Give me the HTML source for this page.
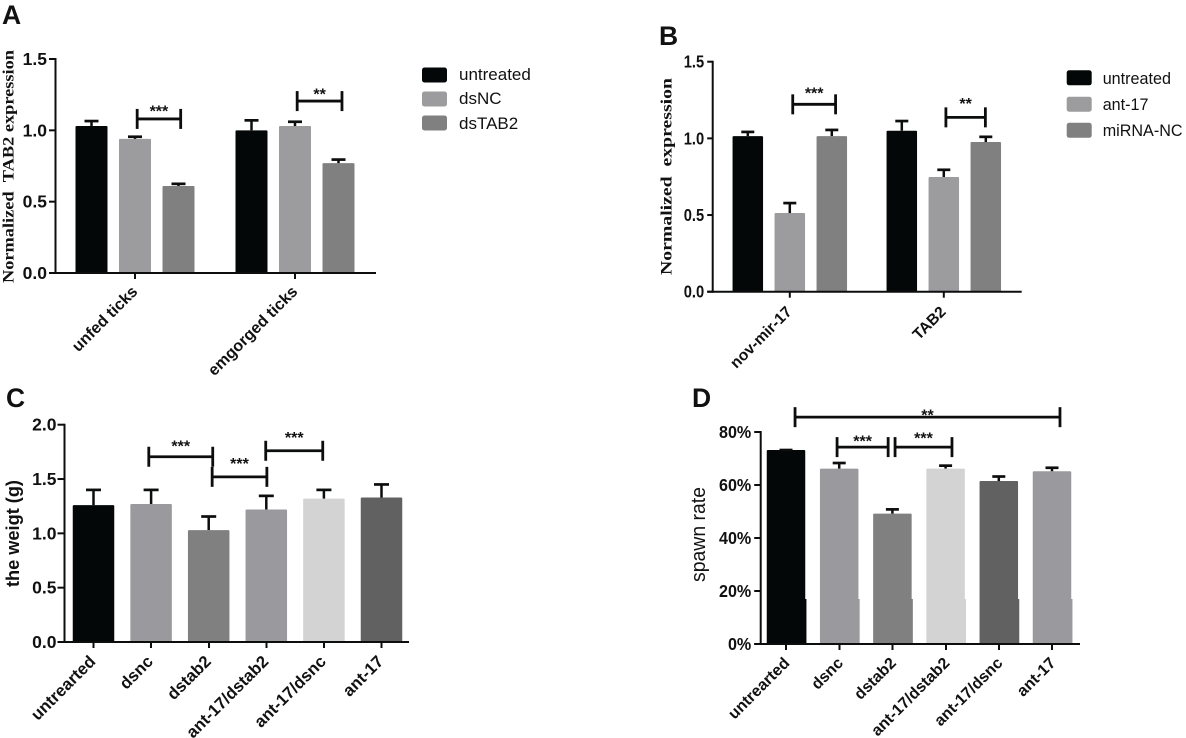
<!DOCTYPE html>
<html lang="en">
<head>
<meta charset="utf-8">
<title>Four-panel bar chart figure</title>
<style>
  html, body { margin: 0; padding: 0; background: #fff; width: 1186px; height: 738px; overflow: hidden; }
  svg { display: block; filter: blur(0.35px); }
  text { font-family: "Liberation Sans", Arial, sans-serif; fill: #111; }
  .serif { font-family: "Liberation Serif", "Times New Roman", serif; }
</style>
</head>
<body>
<svg id="figure" xmlns="http://www.w3.org/2000/svg" width="1186" height="738" viewBox="0 0 1186 738"></svg>
<script>
// ---- Panel A data ----
const aCategories = ['unfed ticks', 'emgorged ticks'];
const aSeriesNames = ['untreated', 'dsNC', 'dsTAB2'];
const aMeans = [[1.03, 0.94, 0.61], [1.00, 1.03, 0.77]];
const aErrTops = [[1.065, 0.955, 0.625], [1.07, 1.06, 0.795]];
const aTicks = [0, 0.5, 1.0, 1.5];
const aTickLabels = ['0.0', '0.5', '1.0', '1.5'];
const aBracketFrom = [1.05, 4.05];
const aBracketTo = [2.05, 5.08];
const aBracketLevel = [1.08, 1.205];
const aStarLevel = [1.163, 1.282];
const aStars = ['***', '**'];

// ---- Panel B data ----
const bCategories = ['nov-mir-17', 'TAB2'];
const bSeriesNames = ['untreated', 'ant-17', 'miRNA-NC'];
const bMeans = [[1.015, 0.513, 1.015], [1.05, 0.748, 0.976]];
const bErrTops = [[1.042, 0.578, 1.055], [1.113, 0.795, 1.01]];
const bTicks = [0, 0.5, 1.0, 1.5];
const bTickLabels = ['0.0', '0.5', '1.0', '1.5'];
const bBracketFrom = [1.07, 4.05];
const bBracketTo = [2.09, 4.99];
const bBracketLevel = [1.222, 1.137];
const bStarLevel = [1.322, 1.255];
const bStars = ['***', '**'];

// ---- Panel C data ----
const cCategories = ['untrearted', 'dsnc', 'dstab2', 'ant-17/dstab2', 'ant-17/dsnc', 'ant-17'];
const cMeans = [1.26, 1.27, 1.03, 1.22, 1.32, 1.33];
const cErrTops = [1.40, 1.40, 1.155, 1.345, 1.40, 1.45];
const cTicks = [0, 0.5, 1.0, 1.5, 2.0];
const cTickLabels = ['0.0', '0.5', '1.0', '1.5', '2.0'];
const cBracketFrom = [0.96, 2.06, 2.99];
const cBracketTo = [2.07, 3.01, 3.98];
const cBracketLevel = [1.705, 1.52, 1.76];
const cStarLevel = [1.84, 1.68, 1.92];
const cStars = ['***', '***', '***'];

// ---- Panel D data ----
const dCategories = ['untrearted', 'dsnc', 'dstab2', 'ant-17/dstab2', 'ant-17/dsnc', 'ant-17'];
const dMeans = [73.2, 66.2, 49.2, 66.2, 61.5, 65.2];
const dErrTops = [73.2, 68.3, 50.8, 67.3, 63.2, 66.5];
const dTicks = [0, 20, 40, 60, 80];
const dTickLabels = ['0%', '20%', '40%', '60%', '80%'];
const dBracketFrom = [0.17, 0.96, 2.05];
const dBracketTo = [5.15, 1.92, 3.12];
const dBracketLevel = [85.6, 74.3, 74.3];
const dStarLevel = [87.9, 78.1, 79.2];
const dStars = ['**', '***', '***'];

const INK = '#0c0d0d';
const svg = document.getElementById('figure');
const NS = 'http://www.w3.org/2000/svg';

function make(tag, attrs, parent, name) {
  const node = document.createElementNS(NS, tag);
  for (const k in attrs) node.setAttribute(k, attrs[k]);
  
  
  parent.appendChild(node);
  return node;
}
function label(str, x, y, size, weight, parent, name, opts) {
  opts = opts || {};
  const sx = opts.squeeze || 1;
  const rot = opts.rotate || 0;
  const attrs = {
    transform: 'translate(' + x + ' ' + y + ') rotate(' + rot + ') scale(' + sx + ' 1)',
    'font-size': size, 'font-weight': weight, 'text-anchor': opts.anchor || 'start'
  };
  if (opts.cls) attrs['class'] = opts.cls;
  if (opts.length) { attrs.textLength = opts.length; attrs.lengthAdjust = 'spacingAndGlyphs'; }
  const t = make('text', attrs, parent, name);
  t.textContent = str;
  return t;
}

function drawPanel(cfg) {
  const g = make('g', {}, svg, 'panel-' + cfg.id);
  const yScale = function (v) { return cfg.y0 - (v - cfg.domainMin) / (cfg.domainMax - cfg.domainMin) * (cfg.y0 - cfg.yTop); };

  // panel letter
  label(cfg.id.toUpperCase(), cfg.letterX, cfg.letterY, 26.5, 'bold', g, 'panel-letter-' + cfg.id);

  // bars and error bars
  cfg.bars.forEach(function (b, i) {
    const top = yScale(b.value);
    make('rect', { x: b.cx - cfg.barW / 2, y: top, width: cfg.barW, height: cfg.y0 - top, rx: 1, fill: cfg.colorOf(i) }, g, 'bar-' + cfg.id + '-' + i);
    if (cfg.splitY) {
      make('rect', { x: b.cx - cfg.barW / 2 + 0.6, y: cfg.splitY, width: cfg.barW + 0.6, height: cfg.y0 - cfg.splitY, fill: cfg.colorOf(i) }, g, 'bar-lower-' + cfg.id + '-' + i);
    }
    const errY = yScale(b.err);
    make('line', { x1: b.cx, x2: b.cx, y1: top, y2: errY, stroke: INK, 'stroke-width': 2.5 }, g, 'error-stem-' + cfg.id + '-' + i);
    make('line', { x1: b.cx - cfg.capW / 2, x2: b.cx + cfg.capW / 2, y1: errY, y2: errY, stroke: INK, 'stroke-width': 2.7 }, g, 'error-cap-' + cfg.id + '-' + i);
  });

  // axes
  make('line', { x1: cfg.axisX, x2: cfg.axisX, y1: cfg.yTop - 1, y2: cfg.y0 + 1, stroke: INK, 'stroke-width': 2 }, g, 'y-axis-' + cfg.id);
  make('line', { x1: cfg.axisX - cfg.tickLen, x2: cfg.xEnd, y1: cfg.y0, y2: cfg.y0, stroke: INK, 'stroke-width': 2 }, g, 'x-axis-' + cfg.id);

  cfg.ticks.forEach(function (t, i) {
    const y = yScale(t);
    make('line', { x1: cfg.axisX - cfg.tickLen, x2: cfg.axisX, y1: y, y2: y, stroke: INK, 'stroke-width': 2 }, g, 'y-tick-' + cfg.id + '-' + i);
    label(cfg.tickLabels[i], cfg.axisX - cfg.tickLen - cfg.tickGap, y + 6, 17.5, 'bold', g, 'y-tick-label-' + cfg.id + '-' + i, { anchor: 'end', squeeze: cfg.tickSqueeze });
  });

  cfg.categories.forEach(function (c, i) {
    const x = cfg.tickX[i];
    make('line', { x1: x, x2: x, y1: cfg.y0, y2: cfg.y0 + 6, stroke: INK, 'stroke-width': 2 }, g, 'x-tick-' + cfg.id + '-' + i);
    label(c, x + cfg.labelDx, cfg.y0 + cfg.labelDy, cfg.catSize, 'bold', g, 'x-tick-label-' + cfg.id + '-' + i, { anchor: 'end', rotate: -45 });
  });

  // y axis title
  label(cfg.title, cfg.titleX, cfg.titleY, cfg.titleSize, cfg.titleWeight, g, 'y-axis-title-' + cfg.id, { rotate: -90, length: cfg.titleLen, cls: cfg.titleCls });

  // significance brackets
  cfg.brackets.from.forEach(function (f, i) {
    const x1 = cfg.slotX(f), x2 = cfg.slotX(cfg.brackets.to[i]);
    const y = yScale(cfg.brackets.level[i]);
    make('line', { x1: x1, x2: x2, y1: y, y2: y, stroke: INK, 'stroke-width': 2.8 }, g, 'bracket-line-' + cfg.id + '-' + i);
    make('line', { x1: x1, x2: x1, y1: y - 10, y2: y + 10, stroke: INK, 'stroke-width': 2.8 }, g, 'bracket-left-cap-' + cfg.id + '-' + i);
    make('line', { x1: x2, x2: x2, y1: y - 10, y2: y + 10, stroke: INK, 'stroke-width': 2.8 }, g, 'bracket-right-cap-' + cfg.id + '-' + i);
    label(cfg.brackets.stars[i], (x1 + x2) / 2, yScale(cfg.brackets.star[i]) + 9.5, 16, 'bold', g, 'significance-stars-' + cfg.id + '-' + i, { anchor: 'middle' });
  });

  // legend
  if (cfg.legend) {
    cfg.legend.names.forEach(function (n, i) {
      const entry = make('g', {}, g, 'legend-entry-' + cfg.id + '-' + i);
      make('rect', { x: cfg.legend.x, y: cfg.legend.swatchY[i], width: 25, height: 15, rx: 2.5, fill: cfg.legend.colors[i] }, entry, 'legend-swatch-' + cfg.id + '-' + i);
      label(n, cfg.legend.textX, cfg.legend.textY[i], 17, 'normal', entry, 'legend-label-' + cfg.id + '-' + i, { squeeze: cfg.legend.squeeze });
    });
  }
}

function groupedBars(means, errs, center0, groupStep, barStep) {
  const out = [];
  means.forEach(function (row, g) {
    row.forEach(function (v, s) {
      out.push({ value: v, err: errs[g][s], cx: center0 + g * groupStep + (s - 1) * barStep });
    });
  });
  return out;
}
function groupedSlot(center0, groupStep, barStep) {
  return function (pos) {
    const g = Math.floor(pos / 3);
    return center0 + g * groupStep + (pos - g * 3 - 1) * barStep;
  };
}
function singleBars(means, errs, slot) {
  return means.map(function (v, i) { return { value: v, err: errs[i], cx: slot(i) }; });
}

const groupColors = ['#040708', '#9c9c9f', '#7f807f'];
const slotA = groupedSlot(135, 160, 43.5);
const slotB = groupedSlot(789.8, 154, 42);
const slotC = function (p) { return 93.5 + 57.6 * p; };
const slotD = function (p) { return 786 + 53.2 * p; };

drawPanel({
  id: 'a', letterX: 2, letterY: 24, axisX: 55.5, xEnd: 376, y0: 273, yTop: 59, domainMin: 0, domainMax: 1.5,
  tickLen: 6.5, tickGap: 2, ticks: aTicks, tickLabels: aTickLabels, tickSqueeze: 1,
  bars: groupedBars(aMeans, aErrTops, 135, 160, 43.5), barW: 32, capW: 14,
  colorOf: function (i) { return groupColors[i % 3]; },
  categories: aCategories, tickX: [135, 295], labelDx: 3.5, labelDy: 19.5, catSize: 16.1,
  slotX: slotA, title: 'Normalized\u00a0\u00a0TAB2 expression', titleX: 13.5, titleY: 283, titleSize: 16, titleWeight: 'bold', titleLen: 233, titleCls: 'serif',
  brackets: { from: aBracketFrom, to: aBracketTo, level: aBracketLevel, star: aStarLevel, stars: aStars },
  legend: { names: aSeriesNames, colors: groupColors, x: 422, swatchY: [67.5, 91.5, 115.5], textX: 459, textY: [80, 104, 129], squeeze: 1 }
});

drawPanel({
  id: 'b', letterX: 659, letterY: 45, axisX: 712.7, xEnd: 1021.7, y0: 291.7, yTop: 61.7, domainMin: 0, domainMax: 1.5,
  tickLen: 5.5, tickGap: 3, ticks: bTicks, tickLabels: bTickLabels, tickSqueeze: 0.84,
  bars: groupedBars(bMeans, bErrTops, 789.8, 154, 42), barW: 30.5, capW: 13,
  colorOf: function (i) { return groupColors[i % 3]; },
  categories: bCategories, tickX: [789.8, 943.8], labelDx: 3, labelDy: 21, catSize: 15.6,
  slotX: slotB, title: 'Normalized\u00a0\u00a0expression', titleX: 671.5, titleY: 275, titleSize: 16, titleWeight: 'bold', titleLen: 197, titleCls: 'serif',
  brackets: { from: bBracketFrom, to: bBracketTo, level: bBracketLevel, star: bStarLevel, stars: bStars },
  legend: { names: bSeriesNames, colors: groupColors, x: 1066.7, swatchY: [70.3, 96.7, 122.8], textX: 1102.7, textY: [84, 110, 136], squeeze: 0.95 }
});

const cColors = ['#040708', '#9a9a9e', '#7f807f', '#9a9a9e', '#d3d3d3', '#606160'];
drawPanel({
  id: 'c', letterX: 6, letterY: 407, axisX: 64.5, xEnd: 409, y0: 642, yTop: 424.7, domainMin: 0, domainMax: 2,
  tickLen: 7, tickGap: 1, ticks: cTicks, tickLabels: cTickLabels, tickSqueeze: 1,
  bars: singleBars(cMeans, cErrTops, slotC), barW: 41.5, capW: 15,
  colorOf: function (i) { return cColors[i]; },
  categories: cCategories, tickX: [93.5, 151, 209, 266.5, 324, 381.5], labelDx: 3, labelDy: 20.5, catSize: 16.8,
  slotX: slotC, title: 'the weigt (g)', titleX: 19, titleY: 587, titleSize: 18, titleWeight: 'bold', titleLen: 107,
  brackets: { from: cBracketFrom, to: cBracketTo, level: cBracketLevel, star: cStarLevel, stars: cStars }
});

const dColors = ['#040708', '#9a9a9e', '#7f807f', '#d3d3d3', '#606160', '#9a9a9e'];
drawPanel({
  id: 'd', letterX: 692, letterY: 407, axisX: 760.7, xEnd: 1080, y0: 644, yTop: 432, domainMin: 0, domainMax: 80,
  tickLen: 6.5, tickGap: 3, ticks: dTicks, tickLabels: dTickLabels, tickSqueeze: 0.92,
  bars: singleBars(dMeans, dErrTops, slotD), barW: 38.5, capW: 13, splitY: 599,
  colorOf: function (i) { return dColors[i]; },
  categories: dCategories, tickX: [786, 839.5, 892.5, 946, 999, 1052], labelDx: 4.5, labelDy: 20, catSize: 16,
  slotX: slotD, title: 'spawn rate', titleX: 705, titleY: 582, titleSize: 20, titleWeight: 'normal', titleLen: 95,
  brackets: { from: dBracketFrom, to: dBracketTo, level: dBracketLevel, star: dStarLevel, stars: dStars }
});
</script>
</body>
</html>
